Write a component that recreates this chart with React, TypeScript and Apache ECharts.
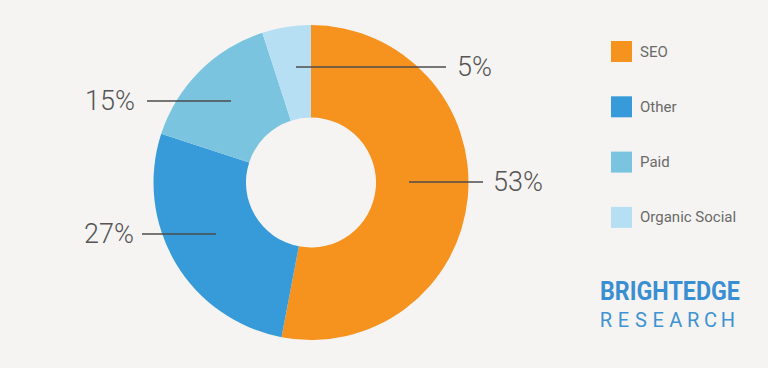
import React, { useEffect, useRef } from "react";
import * as echarts from "echarts";

const categories = ["SEO", "Other", "Paid", "Organic Social"];
const shares = [53, 27, 15, 5];
const colors = ["#f6931f", "#379bd9", "#7bc4e0", "#b7dff4"];
const researchLetters = ["R", "E", "S", "E", "A", "R", "C", "H"];

// label layout (positions only)
const labelAnchors = [
  { x1: 409, x2: 483, y: 182, tx: 493, align: "left" },
  { x1: 216, x2: 142, y: 234, tx: 134, align: "right" },
  { x1: 231, x2: 147, y: 101, tx: 135, align: "right" },
  { x1: 296, x2: 446, y: 67, tx: 457, align: "left" },
];

export default function App() {
  const ref = useRef<HTMLDivElement>(null);
  useEffect(() => {
    const chart = echarts.init(ref.current!, null, { renderer: "svg" });
    const option: any = {
      animation: false,
      backgroundColor: "#f5f4f2",
      color: colors,
      legend: {
        orient: "vertical",
        left: 611,
        top: 41,
        padding: 0,
        itemWidth: 21,
        itemHeight: 21,
        itemGap: 34.3,
        icon: "rect",
        selectedMode: false,
        data: categories,
        textStyle: {
          fontFamily: "Roboto",
          fontSize: 15,
          color: "#6a6a6a",
          padding: [0, 0, 0, 3],
        },
      },
      series: [
        {
          type: "pie",
          center: [311, 182.5],
          radius: [65, 157.5],
          startAngle: 90,
          clockwise: true,
          avoidLabelOverlap: false,
          silent: true,
          emphasis: { disabled: true },
          itemStyle: { borderWidth: 0 },
          label: {
            show: true,
            position: "outside",
            formatter: (p: any) => p.value + "%",
            fontFamily: "Roboto",
            fontWeight: 300,
            fontSize: 27,
            color: "#555555",
          },
          labelLine: { show: false },
          labelLayout: (params: any) => {
            const a = labelAnchors[params.dataIndex];
            return {
              x: a.tx,
              y: a.y,
              align: a.align,
              verticalAlign: "middle",
            };
          },
          data: categories.map((c, i) => ({ name: c, value: shares[i] })),
        },
      ],
      graphic: [
        ...labelAnchors.map((a) => ({
          type: "line",
          z: 100,
          silent: true,
          shape: { x1: a.x1, y1: a.y, x2: a.x2, y2: a.y },
          style: { stroke: "#4d4d4d", lineWidth: 1.4 },
        })),
        {
          type: "text",
          x: 600,
          y: 292,
          scaleX: 0.93,
          style: {
            text: "BRIGHTEDGE",
            fontFamily: "Roboto",
            fontWeight: "bold",
            fontSize: 25,
            fill: "#3a8fd2",
            align: "left",
            verticalAlign: "middle",
          },
        },
        {
          type: "group",
          children: researchLetters.map((l, i) => ({
            type: "text",
            x: 606 + i * 17.43,
            y: 319.5,
            style: {
              text: l,
              fontFamily: "Roboto",
              fontSize: 20,
              fill: "#3e93d3",
              align: "center",
              verticalAlign: "middle",
            },
          })),
        },
      ],
    };
    chart.setOption(option);
    return () => chart.dispose();
  }, []);
  return (
    <div
      ref={ref}
      style={{ position: "fixed", left: 0, top: 0, width: 768, height: 368 }}
    />
  );
}
